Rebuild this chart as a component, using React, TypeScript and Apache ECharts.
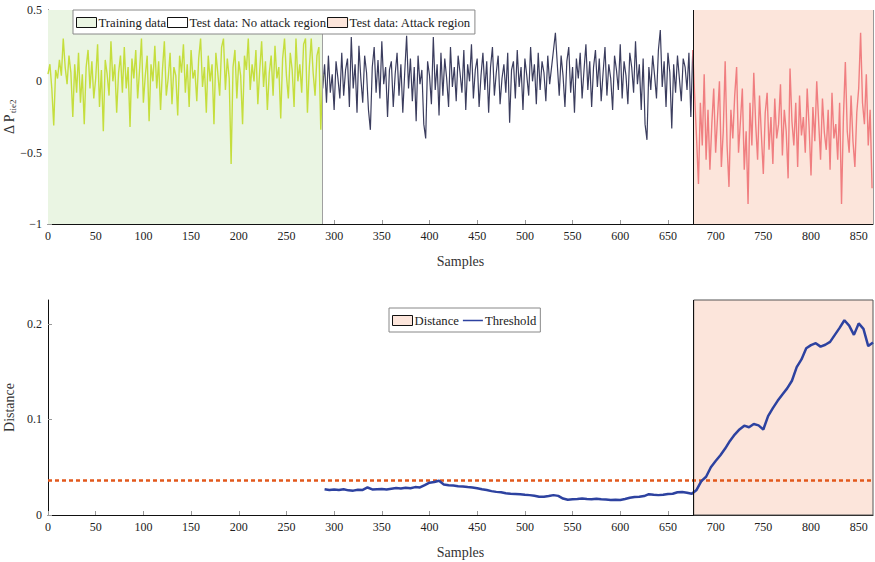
import React, { useEffect, useRef } from "react";
import * as echarts from "echarts";

// ---- data ----
// training samples: x = 0, 2, 4, ... 288
const trainingValues = [
  0.05, 0.12, -0.05, -0.31, 0.08, 0.02, 0.15, 0.04, 0.30, 0.10,
  -0.02, 0.18, 0.06, -0.25, 0.12, -0.08, 0.20, -0.15, 0.05, -0.30,
  0.10, 0.22, -0.05, 0.14, -0.12, 0.02, 0.26, -0.18, 0.08, -0.35,
  0.15, 0.05, -0.10, 0.28, 0.00, 0.12, -0.22, 0.06, 0.18, -0.08,
  0.24, -0.05, 0.10, -0.32, 0.16, 0.02, 0.22, -0.12, 0.08, 0.30,
  -0.15, 0.04, 0.18, -0.28, 0.12, 0.00, 0.25, -0.05, 0.14, -0.20,
  0.08, 0.28, -0.10, 0.02, 0.20, -0.16, 0.10, 0.04, -0.24, 0.18,
  0.06, 0.26, -0.08, 0.12, -0.18, 0.22, 0.02, 0.08, -0.14, 0.16,
  0.30, -0.04, 0.10, -0.22, 0.18, 0.00, 0.12, -0.30, 0.20, 0.06,
  -0.10, 0.24, 0.30, -0.06, 0.16, 0.02, -0.58, 0.10, 0.22, -0.12,
  0.14, 0.04, -0.30, 0.18, 0.08, 0.30, -0.06, 0.12, 0.00, 0.22,
  -0.16, 0.08, 0.28, -0.04, 0.14, -0.20, 0.06, 0.18, -0.10, 0.25,
  0.02, 0.10, -0.26, 0.16, 0.30, 0.04, -0.12, 0.20, 0.08, -0.18,
  0.30, 0.00, 0.12, -0.08, 0.26, 0.30, -0.22, 0.10, 0.30, 0.06,
  -0.10, 0.18, 0.24, -0.34, 0.05,
];
// test samples without attack: x = 288, 290, ... 676
const testValues = [
  -0.05, 0.12, -0.15, 0.18, -0.08, 0.05, -0.20, 0.14, 0.02, -0.12,
  0.20, -0.10, 0.08, 0.16, -0.18, 0.31, -0.05, 0.12, -0.22, 0.25,
  0.02, -0.15, 0.18, 0.06, -0.20, -0.34, 0.10, 0.24, -0.08, 0.15,
  -0.12, 0.28, -0.02, 0.10, -0.25, 0.08, 0.14, -0.18, 0.05, 0.20,
  -0.10, 0.12, -0.22, 0.06, 0.32, -0.05, 0.16, -0.14, 0.10, -0.28,
  0.18, -0.02, 0.08, -0.30, -0.40, 0.14, 0.04, -0.16, 0.31, -0.06,
  0.12, -0.24, 0.20, -0.10, 0.16, 0.02, -0.18, 0.24, -0.04, 0.10,
  -0.14, 0.18, 0.06, -0.08, 0.22, -0.20, 0.12, 0.00, 0.26, -0.12,
  0.08, 0.16, -0.18, 0.04, 0.20, -0.06, 0.14, -0.22, 0.10, 0.24,
  -0.10, 0.06, 0.18, -0.16, 0.02, 0.12, -0.08, 0.20, -0.29, 0.08,
  0.14, -0.12, 0.22, -0.04, 0.10, -0.20, 0.16, 0.04, -0.10, 0.24,
  0.00, 0.12, -0.16, 0.20, -0.06, 0.14, 0.06, -0.14, 0.18, -0.02,
  0.10, 0.22, 0.34, 0.12, -0.10, 0.18, 0.04, -0.18, 0.14, 0.24,
  -0.08, 0.10, -0.22, 0.16, 0.02, 0.20, -0.12, 0.08, 0.26, -0.06,
  0.14, -0.18, 0.10, 0.22, -0.04, 0.16, -0.14, 0.06, 0.24, -0.10,
  0.12, 0.02, -0.20, 0.18, 0.08, -0.06, 0.26, -0.12, 0.14, 0.04,
  -0.16, 0.20, 0.10, -0.08, 0.28, -0.02, 0.12, -0.20, 0.16, -0.30,
  -0.41, 0.10, -0.06, 0.18, 0.04, -0.12, 0.22, 0.36, -0.04, 0.14,
  -0.18, 0.20, 0.06, -0.33, 0.12, -0.08, 0.18, 0.02, -0.14, 0.16,
  0.10, -0.06, 0.20, -0.25, 0.22,
];
// test samples with attack: x = 676, 678, ... 864
const attackValues = [
  0.22, -0.10, -0.40, -0.72, -0.15, -0.45, 0.05, -0.55, -0.20, -0.62,
  -0.30, -0.05, -0.50, -0.25, 0.00, -0.60, -0.35, 0.14, -0.45, -0.74,
  -0.20, -0.40, -0.10, 0.10, -0.50, -0.28, -0.05, -0.62, -0.35, -0.86,
  -0.15, -0.45, 0.06, -0.30, -0.55, -0.10, -0.38, -0.65, -0.22, -0.08,
  -0.48, -0.25, -0.58, -0.12, -0.40, -0.30, -0.02, -0.52, -0.20, -0.35,
  -0.68, 0.09, -0.28, -0.45, -0.15, -0.60, -0.10, -0.38, -0.25, -0.50,
  -0.05, -0.32, -0.66, -0.18, -0.42, 0.00, -0.28, -0.55, -0.12, -0.36,
  -0.48, -0.20, -0.62, -0.08, -0.40, -0.30, -0.55, -0.15, -0.86, -0.25,
  0.135, -0.35, -0.50, -0.10, -0.42, -0.60, -0.22, -0.05, 0.34, -0.15,
  -0.30, 0.05, -0.45, -0.20, -0.75,
];
// distance: x = 290, 295, ... 865
const distanceValues = [
  0.027, 0.0262, 0.0268, 0.0262, 0.027, 0.0258, 0.0255, 0.0265, 0.0262, 0.0288,
  0.0268, 0.027, 0.0272, 0.0268, 0.0275, 0.0282, 0.0278, 0.0285, 0.028, 0.0292,
  0.0288, 0.0312, 0.0338, 0.0345, 0.0358, 0.032, 0.0312, 0.0308, 0.0302, 0.0298,
  0.0292, 0.0288, 0.028, 0.027, 0.0262, 0.025, 0.0242, 0.0238, 0.0228, 0.0222,
  0.022, 0.0218, 0.0212, 0.0208, 0.0202, 0.0192, 0.019, 0.0198, 0.0208, 0.02,
  0.0172, 0.016, 0.0165, 0.0168, 0.0172, 0.0168, 0.0165, 0.017, 0.0164, 0.0162,
  0.0158, 0.016, 0.0158, 0.0168, 0.018, 0.0188, 0.019, 0.0198, 0.0218, 0.0212,
  0.0208, 0.0212, 0.022, 0.0222, 0.0238, 0.024, 0.0232, 0.0222, 0.0262, 0.0355,
  0.040, 0.050, 0.0565, 0.0625, 0.0695, 0.0775, 0.0842, 0.0895, 0.0935, 0.0918,
  0.0952, 0.0938, 0.0895, 0.1035, 0.1118, 0.1195, 0.1262, 0.1325, 0.1405, 0.1548,
  0.1628, 0.1745, 0.1778, 0.1798, 0.1762, 0.1782, 0.1812, 0.1885, 0.1958, 0.2038,
  0.1982, 0.1885, 0.2005, 0.1948, 0.1768, 0.1805,
];
const thresholdValue = 0.036;
const trainingEnd = 288;
const attackStart = 677;
const xMax = 865;

const FONT = "'Liberation Serif', 'DejaVu Serif', serif";
const LINE_ICON = "path://M0,0H30V0.02H0Z M0,4.2H30V6.8H0Z M0,10.98H30V11H0Z";

export default function App() {
  const ref = useRef<HTMLDivElement>(null);
  useEffect(() => {
    if (!ref.current) return;
    const chart = echarts.init(ref.current, undefined, { renderer: "svg" });

    const trainData = trainingValues.map((v, i) => [i * 2, v]);
    const testData = testValues.map((v, i) => [trainingEnd + i * 2, v]);
    const attackData = attackValues.map((v, i) => [676 + i * 2, v]);
    const distData = distanceValues.map((v, i) => [290 + i * 5, v]);

    const minus = (v: number) => String(v).replace("-", "\u2212");

    const xAxisBase = (gi: number) => ({
      gridIndex: gi,
      type: "value",
      min: 0,
      max: xMax,
      interval: 50,
      name: "Samples",
      nameLocation: "middle",
      nameGap: 30,
      nameTextStyle: { fontFamily: FONT, fontSize: 14, color: "#333" },
      axisLine: { onZero: false, lineStyle: { color: "#111", width: 1 } },
      axisTick: { inside: true, length: 4, lineStyle: { color: "#999" } },
      axisLabel: { showMaxLabel: false, fontFamily: FONT, fontSize: 12, color: "#222", margin: 6 },
      splitLine: { show: false },
    });

    const legendBase = {
      z: 10,
      orient: "horizontal",
      itemWidth: 20,
      itemHeight: 10,
      itemGap: 1,
      padding: [6, 4, 5, 3],
      backgroundColor: "#fff",
      borderColor: "#888",
      borderWidth: 1,
      borderRadius: 0,
      selectedMode: false,
      textStyle: { fontFamily: FONT, fontSize: 12.7, color: "#222", padding: [0, 0, 0, -3] },
    };

    const option: any = {
      animation: false,
      grid: [
        { left: 48, right: 2, top: 10, height: 214, containLabel: false, outerBoundsMode: "none" },
        { left: 48, right: 2, top: 300, height: 215, containLabel: false, outerBoundsMode: "none" },
      ],
      legend: [
        {
          ...legendBase,
          left: 73,
          top: 10,
          data: [
            { name: "Training data", icon: "rect", itemStyle: { color: "#eaf5e3", borderColor: "#111", borderWidth: 1 } },
            { name: "Test data: No attack region", icon: "rect", itemStyle: { color: "#fff", borderColor: "#111", borderWidth: 1 } },
            { name: "Test data: Attack region", icon: "rect", itemStyle: { color: "#fce5db", borderColor: "#111", borderWidth: 1 } },
          ],
        },
        {
          ...legendBase,
          left: 389,
          top: 308,
          itemGap: 4,
          data: [
            { name: "Distance", icon: "rect", itemStyle: { color: "#fce5db", borderColor: "#111", borderWidth: 1 } },
            { name: "Threshold", icon: LINE_ICON, itemStyle: { color: "#2d42a0", borderWidth: 0 } },
          ],
        },
      ],
      xAxis: [xAxisBase(0), xAxisBase(1)],
      yAxis: [
        {
          gridIndex: 0,
          type: "value",
          min: -1,
          max: 0.5,
          interval: 0.5,
          name: "{a|\u0394 P}{b|tie2}",
          nameLocation: "middle",
          nameRotate: 90,
          nameGap: 31,
          nameMoveOverlap: false,
          nameTextStyle: {
            color: "#333",
            rich: {
              a: { fontFamily: FONT, fontSize: 14, color: "#333" },
              b: { fontFamily: FONT, fontSize: 9, color: "#333", verticalAlign: "bottom", padding: [6, 0, 0, 1] },
            },
          },
          axisLine: { show: true, lineStyle: { color: "#111" } },
          axisTick: { show: true, inside: true, length: 4, lineStyle: { color: "#999" } },
          axisLabel: { formatter: minus, fontFamily: FONT, fontSize: 12, color: "#222", margin: 6 },
          splitLine: { show: false },
        },
        {
          gridIndex: 1,
          type: "value",
          min: 0,
          max: 0.225,
          interval: 0.1,
          name: "Distance",
          nameLocation: "middle",
          nameRotate: 90,
          nameGap: 32,
          nameMoveOverlap: false,
          nameTextStyle: { fontFamily: FONT, fontSize: 14, color: "#333" },
          axisLine: { show: true, lineStyle: { color: "#111" } },
          axisTick: { show: true, inside: true, length: 4, lineStyle: { color: "#999" } },
          axisLabel: { showMaxLabel: false, fontFamily: FONT, fontSize: 12, color: "#222", margin: 6 },
          splitLine: { show: false },
        },
      ],
      series: [
        {
          name: "Training data",
          type: "line",
          xAxisIndex: 0,
          yAxisIndex: 0,
          data: [],
          z: 1,
          markArea: {
            silent: true,
            itemStyle: { color: "#eaf5e3" },
            data: [[{ xAxis: 0 }, { xAxis: trainingEnd }]],
          },
          markLine: {
            silent: true,
            symbol: "none",
            label: { show: false },
            lineStyle: { color: "#a0a0a0", type: "solid", width: 1 },
            data: [{ xAxis: trainingEnd }],
          },
        },
        { name: "Test data: No attack region", type: "line", xAxisIndex: 0, yAxisIndex: 0, data: [], z: 1 },
        {
          name: "Test data: Attack region",
          type: "line",
          xAxisIndex: 0,
          yAxisIndex: 0,
          data: [],
          z: 1,
          markArea: {
            silent: true,
            itemStyle: { color: "#fce5db" },
            data: [[{ xAxis: attackStart }, { xAxis: xMax }]],
          },
          markLine: {
            silent: true,
            symbol: "none",
            label: { show: false },
            data: [
              { xAxis: attackStart, lineStyle: { color: "#111", type: "solid", width: 1 } },
              { xAxis: xMax, lineStyle: { color: "#999", type: "solid", width: 1 } },
            ],
          },
        },
        {
          name: "test line",
          type: "line",
          xAxisIndex: 0,
          yAxisIndex: 0,
          data: testData,
          symbol: "none",
          z: 3,
          lineStyle: { color: "#3b3d5e", width: 1.2 },
          itemStyle: { color: "#3b3d5e" },
        },
        {
          name: "train line",
          type: "line",
          xAxisIndex: 0,
          yAxisIndex: 0,
          data: trainData,
          symbol: "none",
          z: 4,
          lineStyle: { color: "#c5de3d", width: 1.4 },
        },
        {
          name: "attack line",
          type: "line",
          xAxisIndex: 0,
          yAxisIndex: 0,
          data: attackData,
          symbol: "none",
          z: 4,
          lineStyle: { color: "#f07e80", width: 1.4 },
        },
        {
          name: "Distance",
          type: "line",
          xAxisIndex: 1,
          yAxisIndex: 1,
          data: [],
          z: 1,
          markArea: {
            silent: true,
            itemStyle: { color: "#fce5db", borderColor: "#555", borderWidth: 1 },
            data: [[{ xAxis: attackStart }, { xAxis: xMax }]],
          },
          markLine: {
            silent: true,
            symbol: "none",
            label: { show: false },
            lineStyle: { color: "#111", type: "solid", width: 1 },
            data: [{ xAxis: attackStart }],
          },
        },
        {
          name: "thr",
          type: "line",
          xAxisIndex: 1,
          yAxisIndex: 1,
          data: [[0, thresholdValue], [xMax, thresholdValue]],
          symbol: "none",
          z: 3,
          lineStyle: { color: "#e2581c", width: 2.5, type: [4, 3] },
        },
        {
          name: "Threshold",
          type: "line",
          xAxisIndex: 1,
          yAxisIndex: 1,
          data: distData,
          symbol: "none",
          z: 4,
          color: "#2d42a0",
          lineStyle: { color: "#2d42a0", width: 2.5 },
        },
      ],
    };
    chart.setOption(option);
    return () => chart.dispose();
  }, []);

  return (
    <div
      ref={ref}
      style={{ position: "fixed", left: 0, top: 0, width: 875, height: 562, background: "#fff" }}
    />
  );
}
